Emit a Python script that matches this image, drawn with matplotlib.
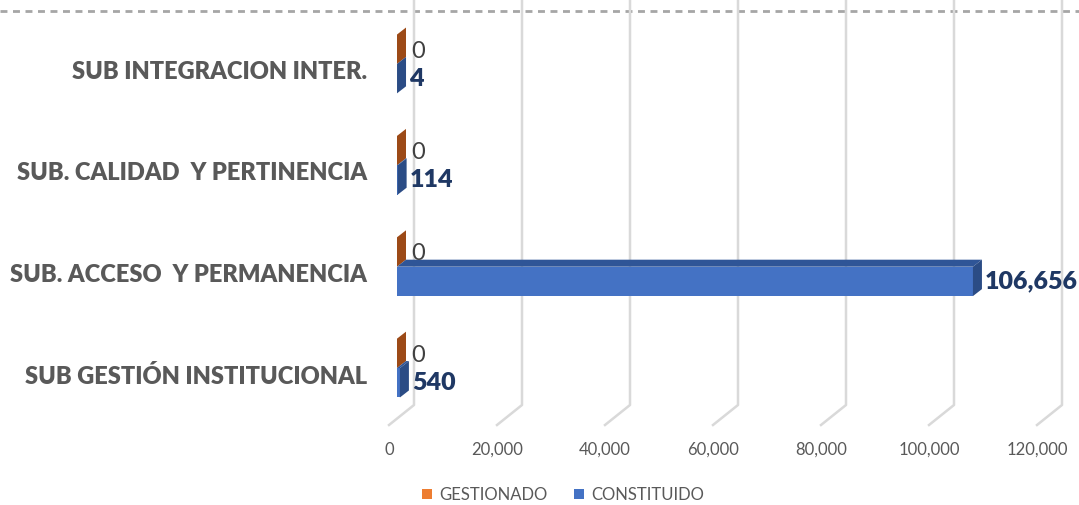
import matplotlib
matplotlib.use("Agg")
import matplotlib.pyplot as plt
from matplotlib.patches import Polygon, Patch
from matplotlib.lines import Line2D
from matplotlib.transforms import ScaledTranslation, IdentityTransform

categories = ['SUB GESTIÓN INSTITUCIONAL', 'SUB. ACCESO  Y PERMANENCIA',
              'SUB. CALIDAD  Y PERTINENCIA', 'SUB INTEGRACION INTER.']
gestionado = [0, 0, 0, 0]
constituido = [540, 106656, 114, 4]
series_names = ['GESTIONADO', 'CONSTITUIDO']
xticks = [0, 20000, 40000, 60000, 80000, 100000, 120000]

FONT = ['Lato', 'DejaVu Sans']
plt.rcParams['font.family'] = FONT

W, H, DPI = 1079, 505, 100
fig = plt.figure(figsize=(W / DPI, H / DPI), dpi=DPI)
ax = fig.add_axes([397 / W, (H - 418.75) / H, 648 / W, 405.5 / H])
ax.set_xlim(0, 120000)
ax.set_ylim(-0.5, 3.5)
ax.axis('off')
ident = IdentityTransform()

grid_c = '#D9D9D9'
# back wall top dotted line
ax.add_line(Line2D([0, W], [H - 11, H - 11], transform=ident, color='#A6A6A6',
                   lw=2, linestyle=(0, (2.5, 2)), zorder=1, clip_on=False))

wall_bottom = H - 405
floor_front = H - 425
for t in xticks:
    x = ax.transData.transform((t, 0))[0]
    ax.add_line(Line2D([x + 17, x + 17, x - 8], [H, wall_bottom, floor_front],
                       transform=ident, color=grid_c, lw=1.8, zorder=1, clip_on=False))
    fig.text((x - 8) / W, (H - 450) / H, f"{t:,}", ha='center', va='center',
             fontsize=12, color='#595959')

bh = 0.29
ypos = list(range(len(categories)))
DX, DY = 9, 7
specs = [
    (gestionado, [y + bh / 2 for y in ypos], '#ED7D31', '#B35A1E', '#9C4A17',
     dict(color='#404040', fontsize=17, fontweight='normal'), 2, 14),
    (constituido, [y - bh / 2 for y in ypos], '#4472C4', '#2F5597', '#2B4C85',
     dict(color='#1F3864', fontsize=18, fontweight='heavy'), 0, 12),
]
for vals, ys, front, top, side, lab, ldy, ldx in specs:
    ax.barh(ys, vals, height=bh, color=front, zorder=3)
    for v, yc in zip(vals, ys):
        x0, yb = ax.transData.transform((0, yc - bh / 2))
        x1, yt = ax.transData.transform((v, yc + bh / 2))
        topf = Polygon([(x0, yt), (x1, yt), (x1 + DX, yt + DY), (x0 + DX, yt + DY)],
                       closed=True, transform=ident, facecolor=top, edgecolor='none',
                       zorder=4, clip_on=False)
        sidef = Polygon([(x1, yb), (x1, yt), (x1 + DX, yt + DY), (x1 + DX, yb + DY)],
                        closed=True, transform=ident, facecolor=side, edgecolor='none',
                        zorder=4, clip_on=False)
        ax.add_artist(topf)
        ax.add_artist(sidef)
        off = ScaledTranslation(ldx / DPI, -ldy / DPI, fig.dpi_scale_trans)
        ax.text(v, yc, f"{v:,}", transform=ax.transData + off, ha='left', va='center',
                zorder=5, clip_on=False, **lab)

for y, c in zip(ypos, categories):
    yd = ax.transData.transform((0, y))[1]
    fig.text(367 / W, (yd - 8) / H, c, ha='right', va='center', fontsize=17,
             fontweight='heavy', color='#595959')

handles = [Patch(facecolor='#ED7D31'), Patch(facecolor='#4472C4')]
leg = fig.legend(handles, series_names, loc='center', bbox_to_anchor=(563 / W, 1 - 495 / H),
                 ncol=2, frameon=False, fontsize=12, handlelength=0.6, handleheight=0.6,
                 handletextpad=0.45, columnspacing=1.6, labelcolor='#595959')

fig.savefig('out.png', dpi=DPI)
